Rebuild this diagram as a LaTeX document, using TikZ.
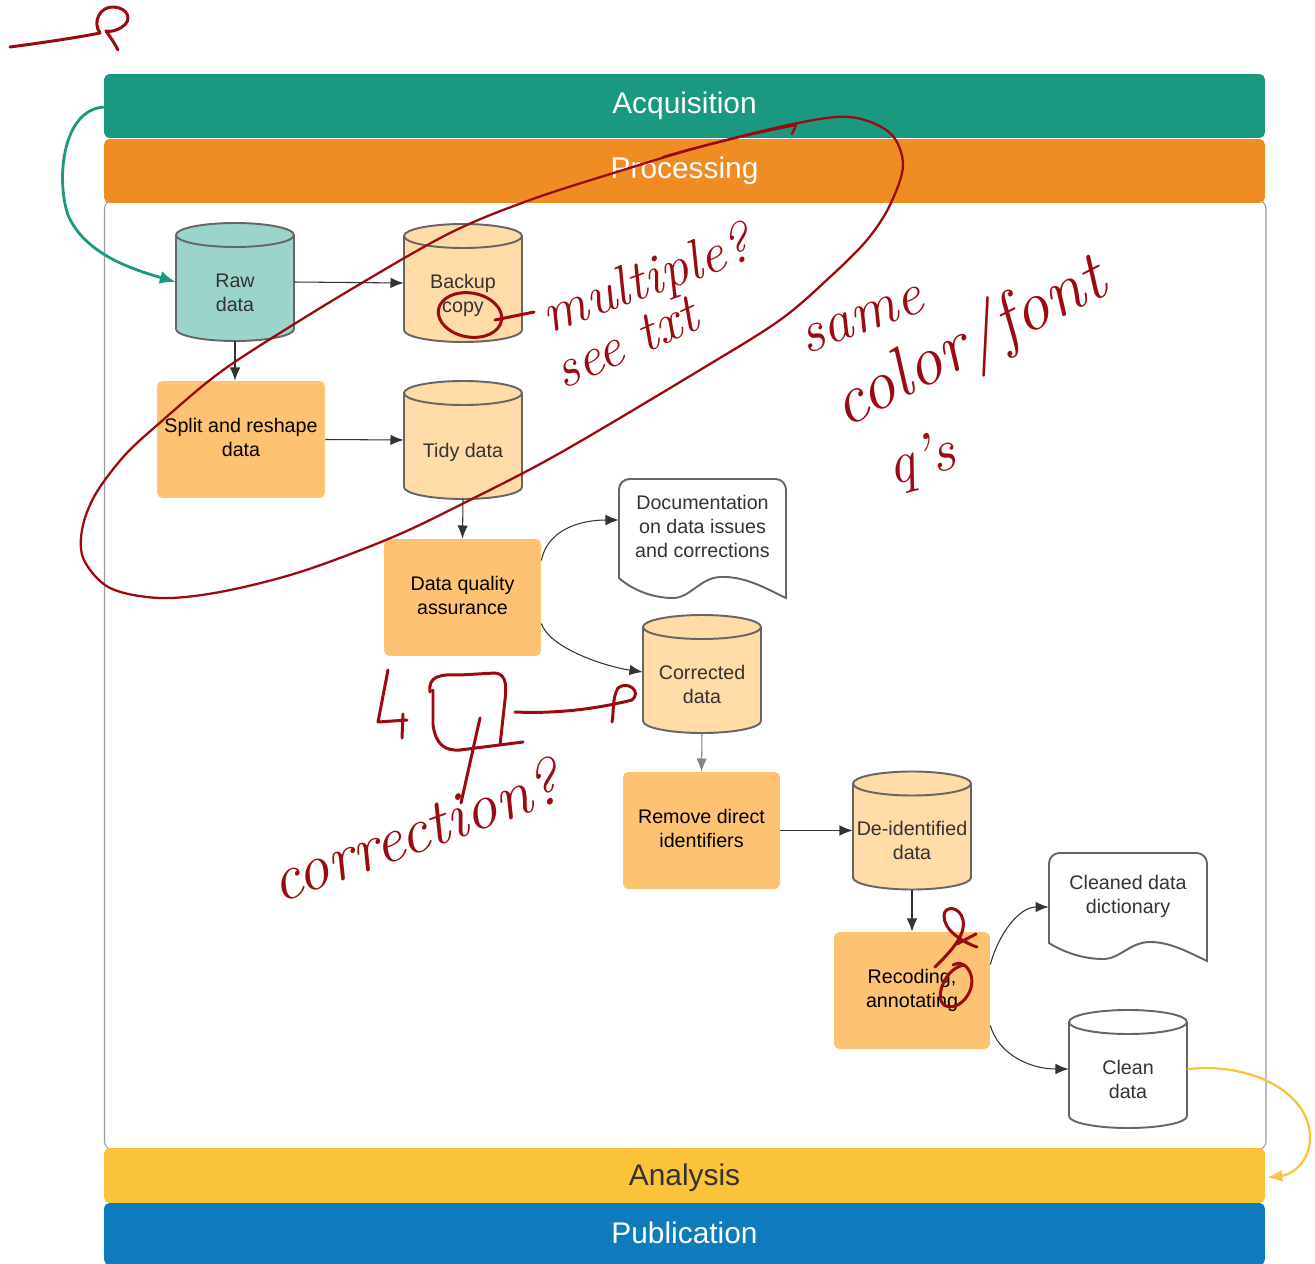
\documentclass[tikz,border=0pt]{standalone}
\usepackage{fontspec}
\usetikzlibrary{arrows.meta,calc}
\newfontfamily\diag{Liberation Sans}
\definecolor{acq}{HTML}{1B9880}
\definecolor{proc}{HTML}{F08C24}
\definecolor{ana}{HTML}{FAC33A}
\definecolor{pub}{HTML}{0E7BBD}
\definecolor{rawfill}{HTML}{9AD4CA}
\definecolor{storefill}{HTML}{FFDBA7}
\definecolor{stepfill}{HTML}{FEC273}
\definecolor{edge}{HTML}{666666}
\definecolor{ink}{HTML}{333333}
\definecolor{pen}{HTML}{9B0A10}
\definecolor{frame}{HTML}{9A9A9A}

% shift a text block vertically while keeping its box where it was
\newcommand\shiftbox[2]{\raisebox{#1}[\height][\depth]{#2}}

% cylinder (data store): name, cx, cy, fill, text
\newcommand\store[5]{%
  \filldraw[fill=#4, draw=edge, line width=1.1pt]
    ({#2-59},{#3-47}) -- ({#2-59},{#3+47})
    arc[start angle=180, end angle=360, x radius=1.18cm, y radius=0.24cm]
    -- ({#2+59},{#3-47})
    arc[start angle=0, end angle=180, x radius=1.18cm, y radius=0.24cm] -- cycle;
  \draw[edge, line width=1.1pt] ({#2-59},{#3-47})
    arc[start angle=180, end angle=360, x radius=1.18cm, y radius=0.24cm];
  \node[storetext] (#1) at (#2,#3)
    {\shiftbox{-0.25cm}{\begin{tabular}{@{}c@{}}#5\end{tabular}}};
}

% centred lines of a step box
\newcommand\steptext[1]{\begin{tabular}{@{}c@{}}#1\end{tabular}}

\begin{document}
\begin{tikzpicture}[x=0.02cm, y=-0.02cm,
  boxfont/.style={font=\diag\fontsize{11.2}{13.6}\selectfont},
  storetext/.style={boxfont, text=ink, minimum width=2.36cm, minimum height=2.36cm, inner sep=0pt},
  stepbox/.style={boxfont, text=black, fill=stepfill, rounded corners=3pt,
    minimum height=2.34cm, inner sep=0pt},
  band/.style={font=\diag\fontsize{17}{20}\selectfont, rounded corners=3pt,
    minimum width=23.22cm, inner sep=0pt},
  doctext/.style={boxfont, text=ink, inner sep=0pt},
  docline/.style={draw=edge, fill=white, line width=1.1pt},
  conn/.style={draw=ink, line width=0.6pt, -{Latex[length=7.5pt,width=6pt]}},
  pen/.style={draw=pen, line cap=round, line join=round, line width=1.7pt},
  pentext/.style={text=pen, inner sep=0pt, font=\itshape\fontsize{#1}{#1}\selectfont},
]
\useasboundingbox (0,0) rectangle (1315,1264);

% processing frame
\draw[frame, line width=0.6pt, rounded corners=5pt] (104.5,200) rectangle (1266,1150);

% stage bands
\node[band, fill=acq, text=white, minimum height=1.28cm] (acq) at (684.5,106) {Acquisition};
\node[band, fill=proc, text=white, minimum height=1.28cm] (proc) at (684.5,171) {Processing};
\node[band, fill=ana, text=ink, minimum height=1.1cm] (ana) at (684.5,1175.5) {\shiftbox{-0.05cm}{Analysis}};
\node[band, fill=pub, text=white, minimum height=1.24cm] (pub) at (684.5,1234) {\shiftbox{0.03cm}{Publication}};

% data stores
\store{raw}{235}{282}{rawfill}{Raw\\data}
\store{backup}{463}{283}{storefill}{Backup\\copy}
\store{tidy}{463}{440}{storefill}{Tidy data}
\store{corrected}{702}{674}{storefill}{Corrected\\data}
\store{deid}{912}{830.5}{storefill}{De-identified\\data}
\store{clean}{1128}{1069}{white}{Clean\\data}

% processing steps
\node[stepbox, minimum width=3.36cm] (split) at (241,439.5) {\steptext{Split and reshape\\data}};
\node[stepbox, minimum width=3.14cm] (dqa) at (462.5,597.5) {\steptext{Data quality\\assurance}};
\node[stepbox, minimum width=3.14cm] (remove) at (701.5,830.5) {\steptext{Remove direct\\identifiers}};
\node[stepbox, minimum width=3.12cm] (recode) at (912,990.5) {\steptext{Recoding,\\annotating}};

% documents
\draw[docline] (619,578) [rounded corners=6pt] -- (619,479) -- (786,479) [sharp corners] -- (786,598)
  .. controls (765,588) and (745,576) .. (720,577)
  .. controls (700,578) and (690,598) .. (673,598)
  .. controls (650,598) and (630,588) .. (619,578) -- cycle;
\node[doctext, minimum width=3.34cm, minimum height=2.38cm] (docq) at (702.5,538)
  {\shiftbox{0.18cm}{\begin{tabular}{@{}c@{}}Documentation\\on data issues\\and corrections\end{tabular}}};

\draw[docline] (1049,943) [rounded corners=6pt] -- (1049,853) -- (1207,853) [sharp corners] -- (1207,961)
  .. controls (1188,952) and (1170,942) .. (1150,942)
  .. controls (1130,942) and (1120,959) .. (1103,959)
  .. controls (1080,959) and (1060,950) .. (1049,943) -- cycle;
\node[doctext, minimum width=3.16cm, minimum height=2.18cm] (dict) at (1128,907)
  {\shiftbox{0.2cm}{\begin{tabular}{@{}c@{}}Cleaned data\\dictionary\end{tabular}}};

% flow
\draw[conn] (raw.east) -- (backup.west);
\draw[conn] (raw.south) -- (raw.south |- split.north);
\draw[conn] (split.east) -- (tidy.west);
\draw[conn] (tidy.south) -- (dqa.north);
\draw[conn] ($(dqa.east)+(0,-37)$) .. controls +(6,-30) and +(-40,0) .. ($(docq.west)+(0,-18)$);
\draw[conn] ($(dqa.east)+(0,26)$) .. controls +(8,24) and +(-40,-6) .. ($(corrected.west)+(0,-2)$);
\draw[conn, draw=edge!80] (corrected.south) -- (remove.north);
\draw[conn] (remove.east) -- (deid.west);
\draw[conn] (deid.south) -- (recode.north);
\draw[conn] ($(recode.east)+(0,-26)$) .. controls +(8,-30) and +(-30,0) .. (dict.west);
\draw[conn] ($(recode.east)+(0,35)$) .. controls +(8,28) and +(-40,0) .. (clean.west);

\draw[draw=acq, line width=1.6pt, -{Latex[length=9pt,width=7.5pt]}]
  ($(acq.west)+(0,1)$) .. controls (62,110) and (56,180) .. (68,215)
  .. controls (85,255) and (135,270) .. (raw.west);
\draw[draw=ana, line width=1.3pt, -{Latex[length=8.5pt,width=7pt]}]
  (clean.east) .. controls (1255,1062) and (1312,1095) .. (1310,1140)
  .. controls (1308,1165) and (1290,1175) .. ($(ana.east)+(2,2)$);

% review notes
\coordinate (n0) at (10,47);
\draw[pen] (n0) .. controls (40,43) and (75,38) .. (100,33)
  .. controls (92,22) and (100,6) .. (114,7)
  .. controls (128,8) and (133,20) .. (122,27)
  .. controls (116,31) and (110,32) .. (106,31)
  .. controls (111,38) and (115,44) .. (118,50);

\draw[pen, line width=1.3pt] plot[smooth cycle, tension=0.55] coordinates {
  (903,165) (890,205) (867,240) (830,277) (780,320) (700,370) (560,453)
  (470,500) (393,537) (300,572) (220,592) (160,598) (110,588) (84,560)
  (82,530) (95,495) (125,455) (163,420) (210,380) (253,350) (350,290)
  (450,233) (530,200) (620,171) (700,147) (793,124) (850,117) (890,133)};
\coordinate (t0) at (663,157);
\draw[pen, line width=1.3pt] (t0) .. controls (700,146) and (750,134) .. (796,125) -- (792,134);

\draw[pen] (470,315) ellipse[x radius=0.64cm, y radius=0.44cm, rotate=-10];
\coordinate (c0) at (495,320);
\coordinate (c1) at (534,312);
\draw[pen] (c0) -- (c1);
\node[pentext=32, rotate=20] (q1) at (648,282) {multiple?};
\node[pentext=32, rotate=24] (q2) at (626,343) {see txt};

\node[pentext=34, rotate=20] (q3) at (862,320) {same};
\node[pentext=40, rotate=27] (q4) at (970,345) {color/font};
\node[pentext=34, rotate=15] (q5) at (922,462) {q's};

\coordinate (f0) at (388,670);
\draw[pen] (f0) -- (378,722) -- (407,720) (403,714) -- (402,738);
\coordinate (f1) at (430,692);
\draw[pen] (f1) .. controls (428,676) and (440,674) .. (460,675) -- (495,673)
  .. controls (508,674) and (506,690) .. (505,700) -- (500,745)
  (433,690) -- (433,725) .. controls (436,745) and (445,751) .. (460,750) -- (523,742)
  (480,718) -- (461,803);
\coordinate (f2) at (515,712);
\draw[pen] (f2) .. controls (560,714) and (600,708) .. (632,700)
  .. controls (642,692) and (628,680) .. (618,688)
  .. controls (612,698) and (614,712) .. (612,722);
\node[pentext=37, rotate=20] (q6) at (415,830) {correction?};

\coordinate (g0) at (935,967);
\draw[pen] (g0) .. controls (950,952) and (966,936) .. (963,920)
  .. controls (960,906) and (944,905) .. (944,916)
  .. controls (944,930) and (962,942) .. (977,947)
  (957,944) -- (976,934);
\coordinate (g1) at (964,965);
\draw[pen] (g1) .. controls (945,968) and (934,998) .. (944,1005)
  .. controls (958,1013) and (976,992) .. (971,975)
  .. controls (968,965) and (960,961) .. (953,965);
\end{tikzpicture}
\end{document}
